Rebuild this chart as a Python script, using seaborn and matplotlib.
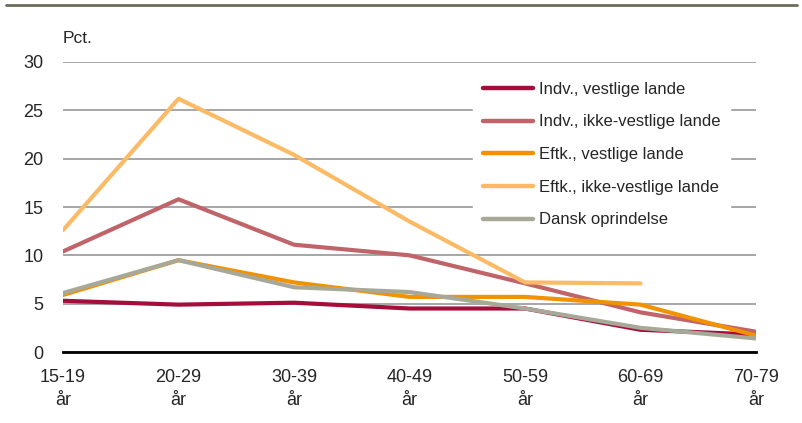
import numpy as np
import pandas as pd
import seaborn as sns
import matplotlib.pyplot as plt
from matplotlib.lines import Line2D

# Data (pct.)
age_groups = ["15-19\når", "20-29\når", "30-39\når", "40-49\når", "50-59\når", "60-69\når", "70-79\når"]
indv_vest = [5.3, 4.9, 5.1, 4.5, 4.5, 2.3, 1.8]
indv_ikke_vest = [10.4, 15.8, 11.1, 10.0, 7.1, 4.1, 2.1]
eftk_vest = [5.9, 9.5, 7.2, 5.7, 5.7, 4.9, 1.7]
eftk_ikke_vest = [12.6, 26.2, 20.4, 13.5, 7.2, 7.1, np.nan]
dansk = [6.1, 9.5, 6.7, 6.2, 4.5, 2.5, 1.4]

series_names = ["Indv., vestlige lande", "Indv., ikke-vestlige lande",
                "Eftk., vestlige lande", "Eftk., ikke-vestlige lande",
                "Dansk oprindelse"]
colors = ["#A50D3B", "#C0646A", "#F39200", "#FBBA66", "#A8A898"]

df = pd.DataFrame({
    "age": list(range(len(age_groups))) * 5,
    "value": indv_vest + indv_ikke_vest + eftk_vest + eftk_ikke_vest + dansk,
    "group": np.repeat(series_names, len(age_groups)),
})

sns.set_theme(style="white")
plt.rcParams["font.family"] = ["Liberation Sans", "DejaVu Sans"]

fig = plt.figure(figsize=(8.02, 4.23), dpi=100)
ax = fig.add_axes([63 / 802, 1 - 352 / 423, (756 - 63) / 802, (352 - 62) / 423])

for i, name in enumerate(series_names):
    sub = df[df["group"] == name]
    sns.lineplot(data=sub, x="age", y="value", ax=ax, color=colors[i], linewidth=3.0,
                 label=name, solid_capstyle="round", solid_joinstyle="round",
                 zorder=3 + i)

ax.set_xlim(0, 6)
ax.set_ylim(0, 30)
ax.set_yticks([0, 5, 10, 15, 20, 25, 30])
ax.set_xticks(range(len(age_groups)))
ax.set_xticklabels(age_groups, fontsize=13, linespacing=1.45)
ax.tick_params(axis="y", labelsize=13, length=0, pad=14)
ax.tick_params(axis="x", length=0, pad=12)
ax.set_xlabel("")
ax.set_ylabel("")

ax.yaxis.grid(True, color="#A6A6A6", linewidth=1.4)
ax.xaxis.grid(False)
ax.set_axisbelow(True)
for s in ["top", "right", "left"]:
    ax.spines[s].set_visible(False)
ax.spines["bottom"].set_color("black")
ax.spines["bottom"].set_linewidth(2)
ax.spines["bottom"].set_zorder(10)

ax.text(0, 1.055, "Pct.", transform=ax.transAxes, fontsize=12.5, ha="left", va="bottom")

leg = ax.legend(loc="upper right", bbox_to_anchor=(0.975, 0.995), frameon=True,
                fontsize=12, handlelength=3.0, handletextpad=0.35,
                labelspacing=1.06, borderpad=0.6, fancybox=False)
leg.get_frame().set_edgecolor("white")
leg.get_frame().set_facecolor("white")
leg.get_frame().set_alpha(1)
leg.set_zorder(20)
for h in leg.get_lines():
    h.set_linewidth(3.2)
    h.set_solid_capstyle("round")

# top rule of the figure
fig.add_artist(Line2D([6 / 802, 797 / 802], [1 - 5 / 423, 1 - 5 / 423],
                      transform=fig.transFigure, color="#6E6B5A", linewidth=2))

fig.savefig("out.png", dpi=100)
